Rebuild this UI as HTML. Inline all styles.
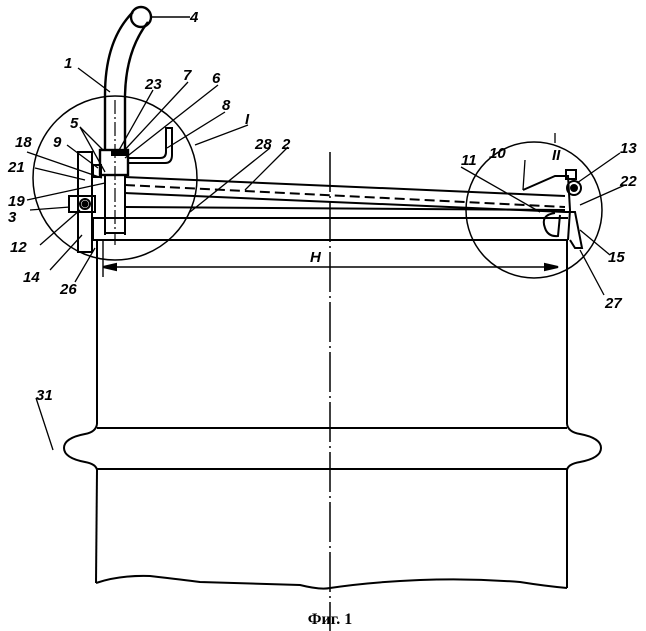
<!DOCTYPE html>
<html><head><meta charset="utf-8"><style>
html,body{margin:0;padding:0;background:#fff}
svg{display:block}
text{font-family:"Liberation Sans",sans-serif;font-style:italic;font-weight:bold;font-size:15px;fill:#000}
</style></head><body>
<svg width="646" height="631" viewBox="0 0 646 631" xmlns="http://www.w3.org/2000/svg">
<g fill="none" stroke="#000" stroke-width="2">
<circle cx="115" cy="178" r="82" stroke-width="1.5"/>
<circle cx="534" cy="210" r="68" stroke-width="1.5"/>
<line x1="330" y1="152" x2="330" y2="631" stroke-width="1.5" stroke-dasharray="40,4,2,4"/>
<path d="M105 150 L105 95 Q105 40 133 12" stroke-width="2.4"/>
<path d="M125 150 L125 95 Q126 50 148 22" stroke-width="2.4"/>
<circle cx="141" cy="17" r="10" stroke-width="2.4"/>
<line x1="152" y1="17" x2="190" y2="17" stroke-width="1.4"/>
<line x1="115" y1="100" x2="115" y2="245" stroke-width="1.2" stroke-dasharray="14,3,2,3"/>
<line x1="105" y1="175" x2="105" y2="235"/>
<line x1="125" y1="175" x2="125" y2="235"/>
<line x1="105" y1="233" x2="125" y2="233"/>
<rect x="100" y="150" width="28" height="25" stroke-width="2.4"/>
<rect x="112" y="150" width="16" height="5" fill="#000"/>
<path d="M128 163 L165 163 Q172 163 172 155 L172 128 L166 128 L166 152 Q166 158 160 158 L128 158"/>
<rect x="78" y="152" width="14" height="100"/>
<rect x="93" y="165" width="8" height="12"/>
<rect x="69" y="196" width="26" height="16"/>
<circle cx="85" cy="204" r="5"/>
<circle cx="85" cy="204" r="2.5" fill="#000"/>
<line x1="125" y1="177" x2="565" y2="196"/>
<line x1="125" y1="185" x2="565" y2="207" stroke-dasharray="10,5"/>
<line x1="125" y1="193" x2="565" y2="212"/>
<line x1="125" y1="207" x2="565" y2="210"/>
<line x1="93" y1="218" x2="568" y2="218"/>
<line x1="93" y1="240" x2="568" y2="240"/>
<line x1="93" y1="218" x2="93" y2="240"/>
<path d="M523 190 L555 176 L568 176 L570 210 L568 240"/>
<rect x="566" y="170" width="10" height="9"/>
<circle cx="574" cy="188" r="7"/>
<circle cx="574" cy="188" r="3" fill="#000"/>
<path d="M565 212 L575 212 L582 248 L575 248 L570 240"/>
<path d="M555 213 Q540 215 545 228 Q548 237 558 236 L560 215"/>
<line x1="97" y1="240" x2="97" y2="424"/>
<line x1="567" y1="240" x2="567" y2="424"/>
<path d="M97 424 Q96 432 85 434 Q64 438 64 448 Q64 458 85 462 Q96 464 97 470"/>
<path d="M567 424 Q568 432 580 434 Q601 438 601 448 Q601 458 580 462 Q568 464 567 470"/>
<line x1="97" y1="428" x2="567" y2="428"/>
<line x1="97" y1="469" x2="567" y2="469"/>
<line x1="97" y1="470" x2="96" y2="583"/>
<line x1="567" y1="470" x2="567" y2="588"/>
<path d="M96 583 Q120 575 150 576 Q185 580 200 582 Q260 584 300 585 Q320 590 330 588 Q370 582 420 580 Q470 578 520 582 Q545 586 567 588"/>
<line x1="103" y1="240" x2="103" y2="277" stroke-width="1.4"/>
<line x1="103" y1="267" x2="558" y2="267" stroke-width="1.4"/>
<path d="M103 267 L116 264 L116 270 Z" fill="#000"/>
<path d="M558 267 L545 264 L545 270 Z" fill="#000"/>
</g>
<g stroke="#000" stroke-width="1.3" fill="none">
<line x1="78" y1="68" x2="110" y2="92"/>
<line x1="153" y1="90" x2="118" y2="152"/>
<line x1="188" y1="82" x2="120" y2="155"/>
<line x1="218" y1="85" x2="125" y2="158"/>
<line x1="225" y1="112" x2="167" y2="148"/>
<line x1="248" y1="125" x2="195" y2="145"/>
<line x1="80" y1="127" x2="103" y2="150"/>
<line x1="80" y1="127" x2="105" y2="172"/>
<line x1="67" y1="145" x2="98" y2="168"/>
<line x1="27" y1="152" x2="102" y2="178"/>
<line x1="35" y1="168" x2="85" y2="180"/>
<line x1="27" y1="200" x2="105" y2="183"/>
<line x1="30" y1="210" x2="70" y2="207"/>
<line x1="40" y1="245" x2="80" y2="210"/>
<line x1="50" y1="270" x2="82" y2="235"/>
<line x1="75" y1="282" x2="95" y2="248"/>
<line x1="270" y1="148" x2="190" y2="212"/>
<line x1="288" y1="147" x2="245" y2="190"/>
<line x1="555" y1="133" x2="555" y2="143"/>
<line x1="461" y1="167" x2="540" y2="212"/>
<line x1="525" y1="160" x2="523" y2="190"/>
<line x1="620" y1="153" x2="577" y2="183"/>
<line x1="625" y1="185" x2="580" y2="205"/>
<line x1="610" y1="255" x2="580" y2="230"/>
<line x1="604" y1="295" x2="580" y2="250"/>
<line x1="36" y1="398" x2="53" y2="450"/>
</g>
<text x="190" y="22">4</text>
<text x="64" y="68">1</text>
<text x="145" y="89">23</text>
<text x="183" y="80">7</text>
<text x="212" y="83">6</text>
<text x="222" y="110">8</text>
<text x="245" y="124">I</text>
<text x="255" y="149">28</text>
<text x="282" y="149">2</text>
<text x="70" y="128">5</text>
<text x="53" y="147">9</text>
<text x="15" y="147">18</text>
<text x="8" y="172">21</text>
<text x="8" y="206">19</text>
<text x="8" y="222">3</text>
<text x="10" y="252">12</text>
<text x="23" y="282">14</text>
<text x="60" y="294">26</text>
<text x="310" y="262">H</text>
<text x="552" y="160">II</text>
<text x="489" y="158">10</text>
<text x="461" y="165">11</text>
<text x="620" y="153">13</text>
<text x="620" y="186">22</text>
<text x="608" y="262">15</text>
<text x="605" y="308">27</text>
<text x="36" y="400">31</text>
<text x="330" y="624" text-anchor="middle" style="font-family:'Liberation Serif',serif;font-style:normal;font-size:16px">Фиг. 1</text>
</svg>
</body></html>
